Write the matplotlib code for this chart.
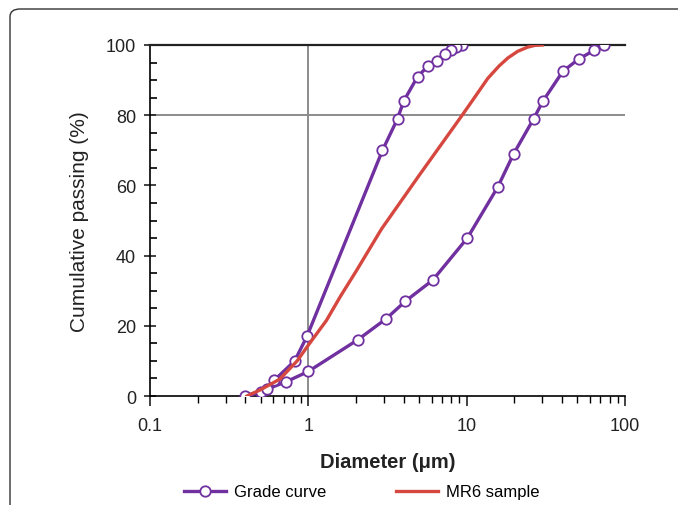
import matplotlib
matplotlib.use("Agg")
import matplotlib.pyplot as plt
import matplotlib.ticker as mticker
from matplotlib.patches import FancyBboxPatch

plt.rcParams['font.family'] = ['Liberation Sans', 'DejaVu Sans']

# grade curve envelope: fine limit (descending) then coarse limit (ascending)
fine_d = [9.3, 8.6, 8.0, 7.3, 6.5, 5.7, 4.9, 4.0, 3.66, 2.94, 0.98, 0.82, 0.61, 0.50, 0.40]
fine_p = [100, 99.5, 98.5, 97.5, 95.5, 94, 91, 84, 79, 70, 17, 10, 4.5, 1, 0]
coarse_d = [0.40, 0.55, 0.72, 1.0, 2.05, 3.1, 4.1, 6.1, 10.1, 15.7, 19.8, 26.5, 30.3,
            40.5, 51, 64, 73.6]
coarse_p = [0, 2, 4, 7, 16, 22, 27, 33, 45, 59.5, 69, 79, 84, 92.5, 96, 98.5, 100]

mr6_d = [0.41, 0.5, 0.66, 0.85, 1.0, 1.3, 1.6, 2.0, 2.9, 5.0, 9.2, 11.0, 13.6,
         16.0, 18.2, 21.0, 24.3, 27.0, 30.0]
mr6_p = [0, 1.8, 4.8, 10, 14.5, 21.5, 28.5, 35.5, 47.6, 62.8, 79.5, 84.5, 90.5,
         94.0, 96.3, 98.2, 99.4, 99.9, 100]

grade_d = fine_d + coarse_d[1:]
grade_p = fine_p + coarse_p[1:]

purple = '#7030a0'
red = '#d6483f'
txt = '#222222'

fig = plt.figure(figsize=(6.78, 5.06), dpi=100)
ax = fig.add_axes([150 / 678, 1 - 397 / 506, 475 / 678, 351 / 506])

# frame around the figure (cut off at right and bottom)
box = FancyBboxPatch((10 / 678, -0.2), 1.2, 1 - 10 / 506 + 0.2,
                     boxstyle="round,pad=0,rounding_size=0.015",
                     transform=fig.transFigure, fill=False,
                     edgecolor='#333333', linewidth=1.0, clip_on=False)
fig.patches.append(box)

ax.axvline(1, color='#8c8c8c', lw=1.4, zorder=0)
ax.axhline(80, color='#8c8c8c', lw=1.4, zorder=0)

ax.plot(grade_d, grade_p, color=purple, lw=2.4, marker='o', ms=7.5,
        mfc='white', mec=purple, mew=1.3, label='Grade curve', zorder=3)
ax.plot(mr6_d, mr6_p, color=red, lw=2.4, label='MR6 sample', zorder=4)

ax.set_xscale('log')
ax.set_xlim(0.1, 100)
ax.set_ylim(0, 100)
ax.xaxis.set_major_formatter(mticker.FuncFormatter(lambda v, p: f'{v:g}'))
ax.xaxis.set_minor_formatter(mticker.NullFormatter())
ax.set_yticks([0, 20, 40, 60, 80, 100])
ax.yaxis.set_minor_locator(mticker.MultipleLocator(5))

ax.spines['right'].set_visible(False)
ax.spines['top'].set_color(txt)
ax.spines['top'].set_linewidth(1.6)
ax.spines['left'].set_linewidth(1.2)
ax.spines['bottom'].set_linewidth(1.2)

ax.tick_params(axis='y', which='major', direction='inout', length=8, width=1.2,
               labelsize=13, pad=6, colors=txt)
ax.tick_params(axis='y', which='minor', direction='in', length=5, width=1.2)
ax.tick_params(axis='x', which='major', direction='out', length=7, width=1.2,
               labelsize=13, pad=8, colors=txt)
ax.tick_params(axis='x', which='minor', direction='out', length=5, width=1.0)

ax.set_xlabel('Diameter (μm)', fontsize=14.5, fontweight='bold', labelpad=13,
              color=txt)
ax.set_ylabel('Cumulative passing (%)', fontsize=15, labelpad=12, color=txt)

fig.legend(loc='center', bbox_to_anchor=(362 / 678, 1 - 493 / 506), ncol=2,
           frameon=False, fontsize=12, handlelength=2.5, columnspacing=4.2,
           handletextpad=0.5)

fig.savefig('out.png', dpi=100)
